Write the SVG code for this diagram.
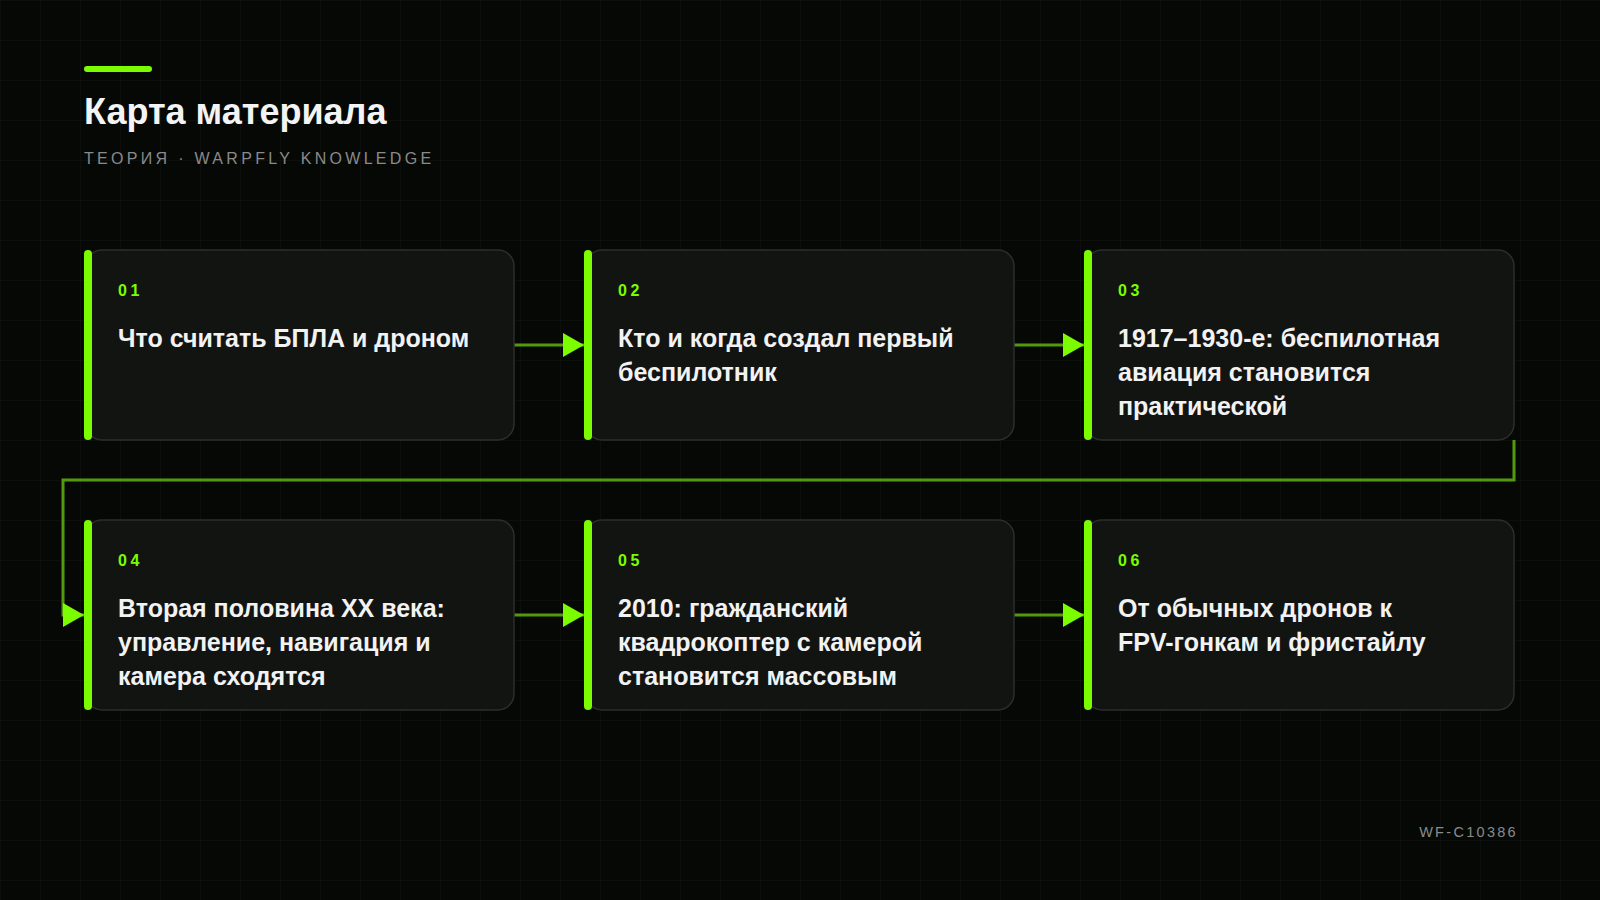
<svg xmlns="http://www.w3.org/2000/svg" width="1600" height="900" viewBox="0 0 1600 900">
<defs>
<pattern id="grid" width="40" height="40" patternUnits="userSpaceOnUse">
<path d="M40 0 H0 V40" fill="none" stroke="#111511" stroke-width="1"/>
</pattern>
<marker id="arr" viewBox="0 0 21 24" refX="21" refY="12" markerWidth="21" markerHeight="24" markerUnits="userSpaceOnUse" orient="auto">
<path d="M0 0 L21 12 L0 24 Z" fill="#7cfc00"/>
</marker>
<style>
.card{fill:#121412;stroke:#2b2f2b;stroke-width:1.5}
.accent{fill:#7cfc00}
.num{font-family:"Liberation Sans",Arial,sans-serif;font-weight:bold;font-size:16px;letter-spacing:3.5px;fill:#7cfc00}
.txt{font-family:"Liberation Sans",Arial,sans-serif;font-weight:bold;font-size:25px;fill:#f2f2f2}
.conn{fill:none;stroke:#52990c;stroke-width:3}
</style>
</defs>
<rect width="1600" height="900" fill="#060806"/>
<rect width="1600" height="900" fill="url(#grid)"/>
<g id="header">
<rect x="84" y="66" width="68" height="6" rx="3" fill="#7cfc00"/>
<text x="84" y="124" font-family="Liberation Sans,Arial,sans-serif" font-weight="bold" font-size="36" fill="#f4f4f4">Карта материала</text>
<text x="84" y="164" font-family="Liberation Sans,Arial,sans-serif" font-size="16" letter-spacing="3.3" fill="#8a8a8a">ТЕОРИЯ · WARPFLY KNOWLEDGE</text>
</g>
<g id="connectors">
<line class="conn" x1="514" y1="345" x2="584" y2="345" marker-end="url(#arr)"/>
<line class="conn" x1="1014" y1="345" x2="1084" y2="345" marker-end="url(#arr)"/>
<path class="conn" d="M1514 440 V480 H63 V615 H84" marker-end="url(#arr)"/>
<line class="conn" x1="514" y1="615" x2="584" y2="615" marker-end="url(#arr)"/>
<line class="conn" x1="1014" y1="615" x2="1084" y2="615" marker-end="url(#arr)"/>
</g>
<g id="node-01">
<rect class="card" x="86" y="250" width="428" height="190" rx="16"/>
<rect class="accent" x="84" y="250" width="8" height="190" rx="4"/>
<text class="num" x="118" y="296">01</text>
<text class="txt" x="118" y="346.5">Что считать БПЛА и дроном</text>
</g>
<g id="node-02">
<rect class="card" x="586" y="250" width="428" height="190" rx="16"/>
<rect class="accent" x="584" y="250" width="8" height="190" rx="4"/>
<text class="num" x="618" y="296">02</text>
<text class="txt" x="618" y="346.5">Кто и когда создал первый</text>
<text class="txt" x="618" y="380.5">беспилотник</text>
</g>
<g id="node-03">
<rect class="card" x="1086" y="250" width="428" height="190" rx="16"/>
<rect class="accent" x="1084" y="250" width="8" height="190" rx="4"/>
<text class="num" x="1118" y="296">03</text>
<text class="txt" x="1118" y="346.5">1917–1930-е: беспилотная</text>
<text class="txt" x="1118" y="380.5">авиация становится</text>
<text class="txt" x="1118" y="414.5">практической</text>
</g>
<g id="node-04">
<rect class="card" x="86" y="520" width="428" height="190" rx="16"/>
<rect class="accent" x="84" y="520" width="8" height="190" rx="4"/>
<text class="num" x="118" y="566">04</text>
<text class="txt" x="118" y="616.5">Вторая половина XX века:</text>
<text class="txt" x="118" y="650.5">управление, навигация и</text>
<text class="txt" x="118" y="684.5">камера сходятся</text>
</g>
<g id="node-05">
<rect class="card" x="586" y="520" width="428" height="190" rx="16"/>
<rect class="accent" x="584" y="520" width="8" height="190" rx="4"/>
<text class="num" x="618" y="566">05</text>
<text class="txt" x="618" y="616.5">2010: гражданский</text>
<text class="txt" x="618" y="650.5">квадрокоптер с камерой</text>
<text class="txt" x="618" y="684.5">становится массовым</text>
</g>
<g id="node-06">
<rect class="card" x="1086" y="520" width="428" height="190" rx="16"/>
<rect class="accent" x="1084" y="520" width="8" height="190" rx="4"/>
<text class="num" x="1118" y="566">06</text>
<text class="txt" x="1118" y="616.5">От обычных дронов к</text>
<text class="txt" x="1118" y="650.5">FPV-гонкам и фристайлу</text>
</g>
<g id="footer">
<text x="1518" y="837" text-anchor="end" font-family="Liberation Sans,Arial,sans-serif" font-size="14.5" letter-spacing="2.3" fill="#8a8a8a">WF-C10386</text>
</g>
</svg>
